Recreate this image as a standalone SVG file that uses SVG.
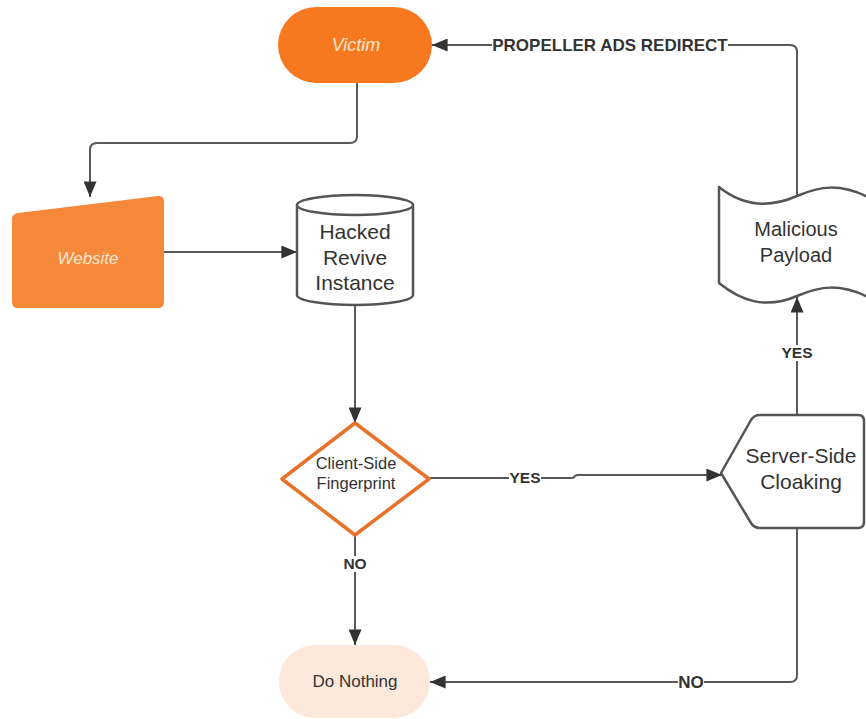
<svg xmlns="http://www.w3.org/2000/svg" width="866" height="719" viewBox="0 0 866 719">
<style>
.t{font-family:"Liberation Sans",Arial,sans-serif;fill:#333;text-anchor:middle}
.w{font-family:"Liberation Sans",Arial,sans-serif;fill:#fde6cf;text-anchor:middle;font-style:italic}
.lbl{font-family:"Liberation Sans",Arial,sans-serif;fill:#333;font-weight:bold;font-size:15.5px;text-anchor:middle}
.lb{fill:#fff}
.c{fill:none;stroke:#595959;stroke-width:2}
.sh{fill:#fff;stroke:#555;stroke-width:2.5;stroke-linejoin:round}
</style>
<defs>
<marker id="a2" viewBox="0 0 12 10" refX="12" refY="5" markerWidth="20" markerHeight="13" markerUnits="userSpaceOnUse" orient="auto">
<path d="M0,0 L12,5 L0,10 Z" fill="#333"/>
</marker>
</defs>
<rect width="866" height="719" fill="#fff"/>
<g id="connectors">
<path class="c" d="M357,83 V136 Q357,143 350,143 H97 Q90,143 90,150 V197" marker-end="url(#a2)"/>
<path class="c" d="M164,252 H297" marker-end="url(#a2)"/>
<path class="c" d="M355,305 V423" marker-end="url(#a2)"/>
<path class="c" d="M430,478 H572 Q574,478 575,476 Q576,475 578,475 H722" marker-end="url(#a2)"/>
<path class="c" d="M355,536 V645" marker-end="url(#a2)"/>
<path class="c" d="M797,415 V297" marker-end="url(#a2)"/>
<path class="c" d="M797,195 V52 Q797,45 790,45 H432" marker-end="url(#a2)"/>
<path class="c" d="M797,529 V675 Q797,682 790,682 H430" marker-end="url(#a2)"/>
<rect class="lb" x="492" y="36" width="236" height="18"/>
<text class="lbl" x="610" y="51" style="font-size:17px">PROPELLER ADS REDIRECT</text>
<rect class="lb" x="509" y="470" width="32" height="16"/>
<text class="lbl" x="525" y="483">YES</text>
<rect class="lb" x="344" y="556" width="22" height="16"/>
<text class="lbl" x="355" y="569">NO</text>
<rect class="lb" x="781" y="345" width="32" height="16"/>
<text class="lbl" x="797" y="358">YES</text>
<rect class="lb" x="678" y="674" width="26" height="17"/>
<text class="lbl" x="691" y="688" style="font-size:17px">NO</text>
</g>
<g id="victim">
<rect x="278" y="7" width="154" height="76" rx="38" fill="#f7791f"/>
<text class="w" x="356" y="51" style="font-size:18px">Victim</text>
</g>
<g id="website">
<path d="M18,213 L158,196 Q164,195 164,202 V302 Q164,308 158,308 H18 Q12,308 12,302 V219 Q12,214 18,213 Z" fill="#f6883a"/>
<text class="w" x="88" y="264" style="font-size:17px">Website</text>
</g>
<g id="hacked">
<path class="sh" d="M297,205 V295 A58,10 0 0 0 413,295 V205 A58,10 0 0 0 297,205 Z"/>
<path class="sh" d="M297,205 A58,10 0 0 0 413,205" fill="none"/>
<text class="t" x="355" y="239" style="font-size:21px">Hacked</text>
<text class="t" x="355" y="265" style="font-size:21px">Revive</text>
<text class="t" x="355" y="290" style="font-size:21px">Instance</text>
</g>
<g id="client">
<path d="M355,423 L429,479 L355,535 L282,479 Z" fill="#fff" stroke="#e8722a" stroke-width="3.5" stroke-linejoin="round"/>
<text class="t" x="356" y="469" style="font-size:16.5px">Client-Side</text>
<text class="t" x="356" y="489" style="font-size:16.5px">Fingerprint</text>
</g>
<g id="donothing">
<rect x="279" y="645" width="151" height="73" rx="36" fill="#fde9dc"/>
<text class="t" x="355" y="687" style="font-size:17px">Do Nothing</text>
</g>
<g id="server">
<path class="sh" d="M721,473 L751,420 Q754,415 760,415 H858 Q864,415 864,421 V522 Q864,528 858,528 H760 Q754,528 751,523 Z"/>
<text class="t" x="801" y="463" style="font-size:21px">Server-Side</text>
<text class="t" x="801" y="489" style="font-size:21px">Cloaking</text>
</g>
<g id="payload">
<path class="sh" d="M719,187 C740,204 765,210 797,196 C820,186 840,183 870,198 V298 C840,283 820,286 797,296 C765,310 740,300 719,283 Z"/>
<text class="t" x="796" y="236" style="font-size:20px">Malicious</text>
<text class="t" x="796" y="262" style="font-size:20px">Payload</text>
</g>
</svg>
